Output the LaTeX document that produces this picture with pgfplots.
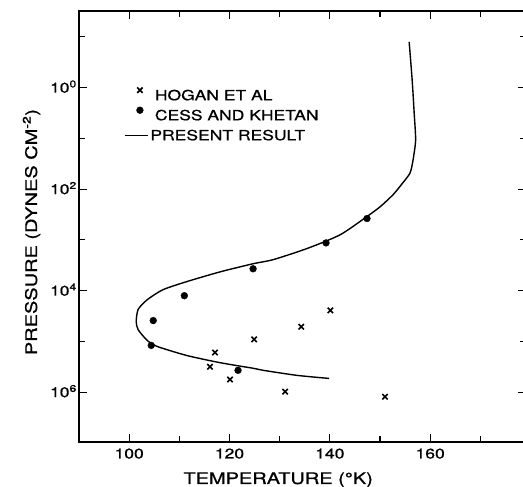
\documentclass[border=0pt]{standalone}
\usepackage{fontspec}
\setmainfont{TeX Gyre Heros}[FakeStretch=1.25, FakeBold=0.8]
\usepackage{pgfplots}
\pgfplotsset{compat=1.18}
\pgfplotsset{
  markleg/.style={legend image code/.code={\path[draw=none, fill=none] (0pt,0pt) rectangle (23pt,10pt);
    \draw[##1] plot coordinates {(11pt,5pt)};}},
  lineleg/.style={legend image code/.code={\path[draw=none, fill=none] (0pt,0pt) rectangle (23pt,10pt);
    \draw[##1] (-4pt,0pt) -- (19pt,0pt);}},
}

\begin{document}
\begin{tikzpicture}
\begin{axis}[
  name=ax,
  scale only axis,
  width=447.5pt, height=431pt,
  xmin=90, xmax=179.2,
  ymode=log, y dir=reverse,
  ymin=0.031, ymax=9.6e6,
  xtick={100,120,140,160},
  minor xtick={110,130,150,170},
  ytick={1,100,10000,1000000},
  yticklabels={10\textsuperscript{0},10\textsuperscript{2},10\textsuperscript{4},10\textsuperscript{6}},
  minor ytick={0.1,10,1000,100000},
  tick align=inside,
  major tick length=8pt, minor tick length=6pt,
  every tick/.style={black, line width=1.2pt},
  axis line style={line width=1.6pt},
  /pgf/number format/assume math mode=true,
  ticklabel style={font=\fontsize{14}{16}\selectfont},
  yticklabel style={anchor=base east, yshift=-5pt, inner xsep=2pt},
  xticklabel style={yshift=-3pt},
  xlabel={TEMPERATURE (°K)},
  ylabel={PRESSURE (DYNES CM\textsuperscript{-2})},
  label style={font=\fontsize{16}{18}\selectfont},
  xlabel style={at={(rel axis cs:0.445,-0.0974)}, anchor=base},
  ylabel style={at={(rel axis cs:-0.0939,0.487)}, anchor=base},
  legend cell align=left,
  legend style={draw=none, fill=none, inner sep=0pt,
    at={(rel axis cs:0.1006,0.8283)}, anchor=north west,
    font=\fontsize{14}{16}\selectfont, row sep=5pt,
    nodes={inner ysep=0pt, inner xsep=3pt, text height=10pt, text depth=0pt}},
]
% Hogan et al
\addplot[only marks, mark=x, mark size=3.8pt, line width=1.6pt, markleg]
coordinates {
(124.9,91200) (117.1,166000) (116.1,316000) (120.1,562000)
(134.3,51300) (140.1,24500) (131.1,977000) (151.0,1.23e6)
};
\addlegendentry{HOGAN ET AL}
% Cess and Khetan
\addplot[only marks, mark=*, mark size=3.4pt, markleg]
coordinates {
(124.7,3715) (111.0,12590) (104.8,38900) (104.4,120000)
(121.7,371500) (139.24,1148) (147.41,380)
};
\addlegendentry{CESS AND KHETAN}
% present result
\addplot[black, line width=1.4pt, smooth, tension=0.4, lineleg]
coordinates {
(155.81,0.126) (156.41,0.708) (156.81,3.16) (157.1,10.7)
(156.6,26.3) (156.0,47.9) (154.6,74.1) (152.6,129)
(150.0,224) (147.4,347) (142.06,794) (135.48,1479)
(128.70,2455) (124.72,2951) (118.14,4266) (111.56,6607)
(106.78,9550) (103.59,15136) (101.79,23442) (101.40,40738)
(101.79,58884) (103.59,95499) (105.58,125893) (111.56,190546)
(118.14,263027) (124.72,338844) (126.71,371535) (133.49,467735)
(139.87,537032)
};
\addlegendentry{\hspace{-4.5pt}PRESENT RESULT}
\end{axis}
\pgfresetboundingbox
\path (ax.south west) ++(-79pt,-45pt) rectangle ++(523pt,487pt);
\end{tikzpicture}
\end{document}
